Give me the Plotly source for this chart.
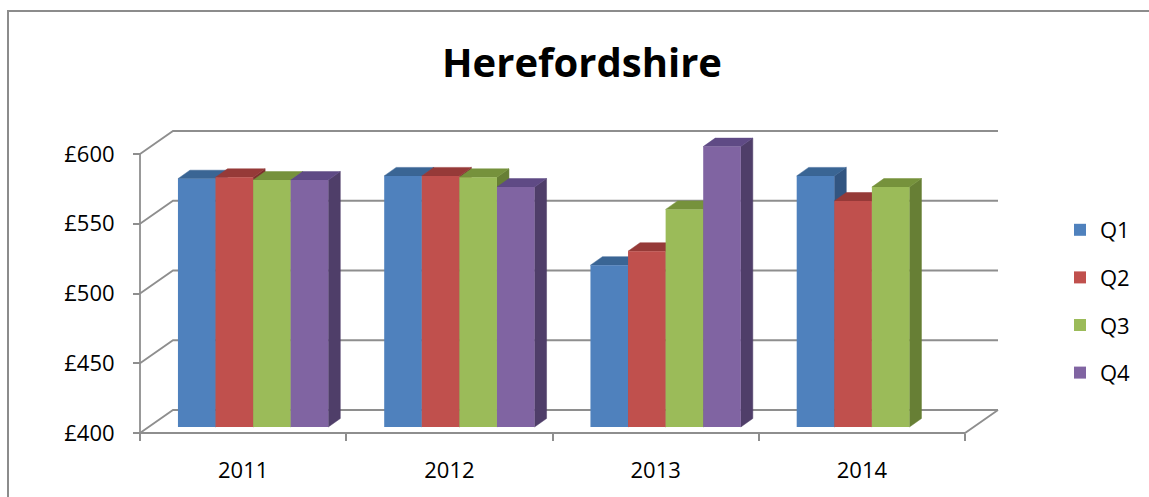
import plotly.graph_objects as go

# ---------------- data ----------------
years = ["2011", "2012", "2013", "2014"]
quarters = ["Q1", "Q2", "Q3", "Q4"]
q1 = [578, 580, 516, 580]
q2 = [579, 580, 526, 562]
q3 = [577, 579, 556, 572]
q4 = [577, 572, 601, None]
series = [q1, q2, q3, q4]
y_ticks = [400, 450, 500, 550, 600]
y_tick_text = ["£400", "£450", "£500", "£550", "£600"]

front_colors = ["#4F81BD", "#C0504D", "#9BBB59", "#8064A2"]
top_colors = ["#3A6594", "#963A38", "#76923C", "#5F4A85"]
side_colors = ["#325581", "#7E302E", "#677F35", "#4F3E69"]

# ---------------- geometry (pixels) ----------------
W, H = 1149, 497
PX_L, PX_R, PX_T, PX_B = 125, 1010, 120, 445     # plot area
X0_PX, CAT_PX = 140, 206.25                       # front-left corner, px per category
Y400_PX, UNIT_PX = 433, 1.395                     # baseline pixel, px per £
WALL_DX, WALL_DY = 33, 23                         # depth of floor/back wall
BAR_DX, BAR_DY = 10, 6                            # bar front plane offset
DEP_DX, DEP_DY = 12, 8.5                          # bar depth
BASE = 400
bargap = 0.271

def xu(px):
    return -0.5 + (px - X0_PX) / CAT_PX

def yu(px):
    return BASE + (Y400_PX - px) / UNIT_PX

xr = [xu(PX_L), xu(PX_R)]
yr = [yu(PX_B), yu(PX_T)]
wdx, wdy = WALL_DX / CAT_PX, WALL_DY / UNIT_PX
bdx, bdy = BAR_DX / CAT_PX, BAR_DY / UNIT_PX
ddx, ddy = DEP_DX / CAT_PX, DEP_DY / UNIT_PX
n = len(years)

fig = go.Figure()
grid_col = "#8E8E8E"

# back wall gridlines + left side wall
gx, gy = [], []
for v in y_ticks:
    gx += [-0.5, -0.5 + wdx, n - 0.5 + wdx, None]
    gy += [v, v + wdy, v + wdy, None]
fig.add_trace(go.Scatter(x=gx, y=gy, mode="lines", line=dict(color=grid_col, width=1.8),
                         hoverinfo="skip", showlegend=False))
# front axis lines (floor front edge + right diagonal, and y-axis line)
fig.add_trace(go.Scatter(x=[-0.5, n - 0.5, n - 0.5 + wdx], y=[BASE, BASE, BASE + wdy],
                         mode="lines", line=dict(color=grid_col, width=1.8),
                         hoverinfo="skip", showlegend=False))
fig.add_trace(go.Scatter(x=[-0.5, -0.5], y=[BASE, max(y_ticks)],
                         mode="lines", line=dict(color=grid_col, width=1.8),
                         hoverinfo="skip", showlegend=False))

# 3D side + top faces (bar-plane coordinates, axis 2)
w = (1 - bargap) / len(quarters)
for j, vals in enumerate(series):
    sx, sy, tx, ty = [], [], [], []
    for i, v in enumerate(vals):
        if v is None:
            continue
        xl = i - (1 - bargap) / 2 + j * w
        xrr = xl + w
        sx += [xrr, xrr, xrr + ddx, xrr + ddx, xrr, None]
        sy += [BASE, v, v + ddy, BASE + ddy, BASE, None]
        tx += [xl, xrr, xrr + ddx, xl + ddx, xl, None]
        ty += [v, v, v + ddy, v + ddy, v, None]
    fig.add_trace(go.Scatter(x=sx, y=sy, xaxis="x2", yaxis="y2", mode="lines", fill="toself",
                             fillcolor=side_colors[j], line=dict(color=side_colors[j], width=0.5),
                             hoverinfo="skip", showlegend=False))
    fig.add_trace(go.Scatter(x=tx, y=ty, xaxis="x2", yaxis="y2", mode="lines", fill="toself",
                             fillcolor=top_colors[j], line=dict(color=top_colors[j], width=0.5),
                             hoverinfo="skip", showlegend=False))

# front faces (axis 3)
for j, vals in enumerate(series):
    fig.add_trace(go.Bar(
        x=list(range(n)), y=[None if v is None else v - BASE for v in vals], base=BASE,
        name=quarters[j], xaxis="x3", yaxis="y3", legendgroup=quarters[j],
        marker=dict(color=front_colors[j], line=dict(width=0)),
        customdata=vals, hovertemplate="£%{customdata}<extra>" + quarters[j] + "</extra>",
    ))

pw, ph = PX_R - PX_L, PX_B - PX_T
tick_font = dict(family="Open Sans", size=22, color="#000000")

fig.update_layout(
    width=W, height=H,
    margin=dict(l=PX_L, r=W - PX_R, t=PX_T, b=H - PX_B, pad=0),
    paper_bgcolor="white", plot_bgcolor="rgba(0,0,0,0)",
    barmode="group", bargap=bargap, bargroupgap=0,
    title=dict(text="Herefordshire", x=582 / W, xref="container", xanchor="center",
               y=1 - 63 / H, yref="container", yanchor="middle",
               font=dict(family="Open Sans", size=40, color="#000000", weight="bold")),
    xaxis=dict(range=xr, showgrid=False, zeroline=False, showline=False,
               tickvals=list(range(n)), ticktext=years, ticks="",
               tickfont=tick_font, ticklabelstandoff=22,
               anchor="free", position=(PX_B - Y400_PX) / ph,
               minor=dict(tickvals=[i - 0.5 for i in range(n + 1)], ticks="outside",
                          ticklen=7, tickwidth=1.8, tickcolor=grid_col, showgrid=False)),
    yaxis=dict(range=yr, showgrid=False, zeroline=False, showline=False,
               tickvals=y_ticks, ticktext=y_tick_text, ticks="outside", ticklen=7,
               tickwidth=1.8, tickcolor=grid_col, tickfont=tick_font, ticklabelstandoff=14,
               anchor="free", position=(X0_PX - PX_L) / pw),
    xaxis2=dict(range=[xr[0] - bdx, xr[1] - bdx], overlaying="x", visible=False),
    yaxis2=dict(range=[yr[0] - bdy, yr[1] - bdy], overlaying="y", visible=False),
    xaxis3=dict(range=[xr[0] - bdx, xr[1] - bdx], overlaying="x", visible=False),
    yaxis3=dict(range=[yr[0] - bdy, yr[1] - bdy], overlaying="y", visible=False),
    legend=dict(x=(1060 - PX_L) / pw, xanchor="left", y=(PX_B - 209) / ph, yanchor="top",
                traceorder="grouped", tracegroupgap=16, bgcolor="rgba(0,0,0,0)",
                font=dict(family="Open Sans", size=22, color="#000000")),
    shapes=[dict(type="rect", xref="paper", yref="paper",
                 x0=(8 - PX_L) / pw, x1=(W + 20 - PX_L) / pw,
                 y0=(PX_B - 11) / ph, y1=(PX_B - H - 20) / ph,
                 line=dict(color="#8C8C8C", width=2), fillcolor="rgba(0,0,0,0)", layer="below")],
    showlegend=True,
)

fig.write_html("out.html", config={"displayModeBar": False},
               post_script="document.body.style.margin='0px';document.body.style.overflow='hidden';")
